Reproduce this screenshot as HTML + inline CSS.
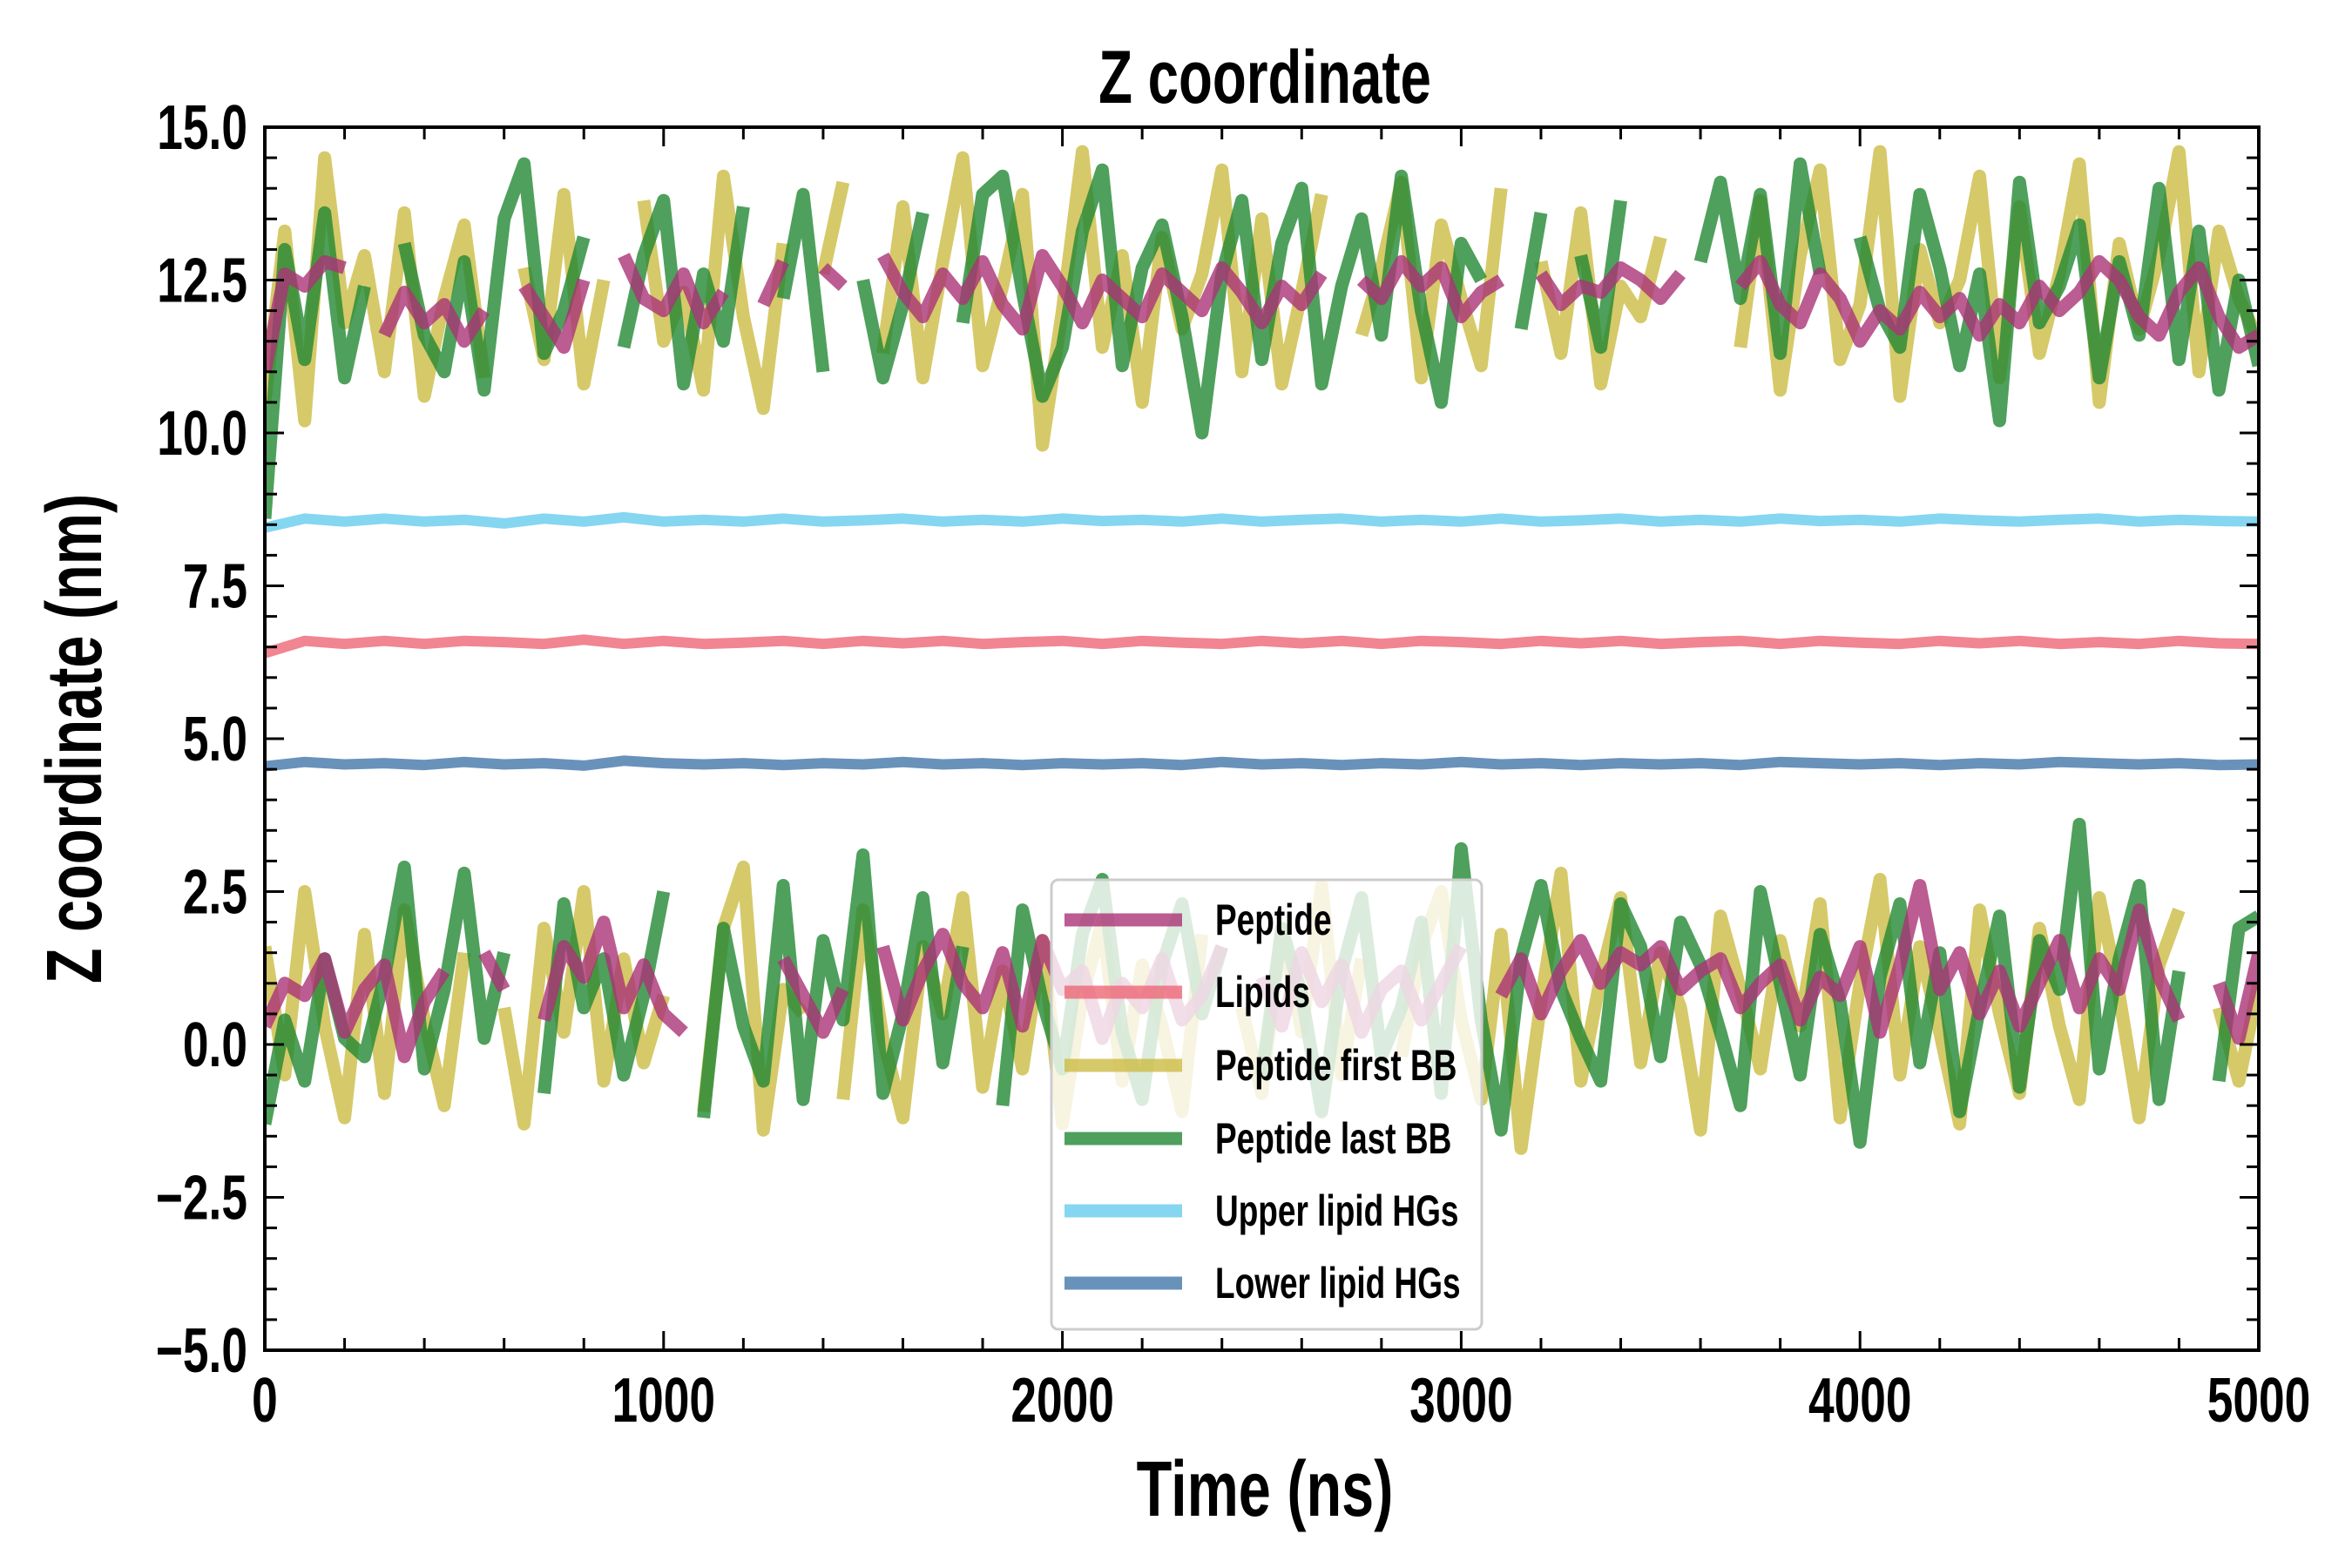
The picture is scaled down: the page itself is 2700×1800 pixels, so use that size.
<!DOCTYPE html>
<html><head><meta charset="utf-8"><style>
html,body{margin:0;padding:0;background:#fff;}
svg{display:block;font-family:"Liberation Sans Narrow","Liberation Sans",sans-serif;font-weight:bold;}
</style></head><body>
<svg id="chart" width="2700" height="1800" viewBox="0 0 2700 1800">
<g id="data-layer"></g>
<g id="axes-layer"></g>
<g id="legend-layer"></g>
</svg>
<script>
const xTicks = [0,1000,2000,3000,4000,5000];
const yTicks = [-5.0,-2.5,0.0,2.5,5.0,7.5,10.0,12.5,15.0];
const seriesNames = ["Peptide","Lipids","Peptide first BB","Peptide last BB","Upper lipid HGs","Lower lipid HGs"];
const timeStep = 50;
const pepUp = [11,12.6,12.4,12.8,12.7,null,11.6,12.3,11.8,12.1,11.5,12.0,null,12.4,11.9,11.4,12.5,null,12.9,12.2,12.0,12.6,11.8,12.3,null,12.1,12.8,null,12.7,12.4,null,12.9,12.3,11.9,12.6,12.2,12.8,12.1,11.7,12.9,12.4,11.8,12.5,12.2,11.9,12.6,12.3,12.0,12.7,12.3,11.8,12.4,12.1,12.6,null,12.5,12.2,12.8,12.4,12.7,11.9,12.3,12.5,null,12.6,12.1,12.4,12.3,12.7,12.5,12.2,12.6,null,null,12.4,12.8,12.1,11.8,12.6,12.2,11.5,12.0,11.7,12.3,11.9,12.2,11.6,12.1,11.8,12.4,12.0,12.3,12.8,12.5,11.9,11.6,12.3,12.7,11.9,11.4,11.6];
const firstUp = [10.5,13.3,10.2,14.5,11.8,12.9,11.0,13.6,10.6,12.2,13.4,10.9,null,12.7,11.2,13.9,10.8,12.5,null,13.8,11.5,12.3,10.7,14.2,11.9,10.4,13.1,null,12.6,14.1,null,11.3,13.7,10.9,12.8,14.5,11.1,12.4,13.9,9.8,12.0,14.6,11.4,12.9,10.5,13.2,11.7,12.6,14.3,11.0,13.5,10.8,12.3,13.9,null,11.6,12.7,14.1,10.9,13.4,12.2,11.1,14.0,null,12.8,11.3,13.6,10.8,12.4,11.9,13.2,null,null,null,11.4,13.8,10.7,12.9,14.3,11.2,12.1,14.6,10.6,13.0,11.8,12.5,14.2,10.9,13.7,11.3,12.6,14.4,10.5,13.1,11.7,12.9,14.6,11.0,13.3,12.2,11.5];
const lastUp = [8.6,13.0,11.2,13.6,10.9,12.4,null,13.1,11.6,11.0,12.8,10.7,13.5,14.4,11.3,12.0,13.2,null,11.4,12.9,13.8,10.8,12.6,11.5,13.7,null,12.2,13.9,11.0,null,12.5,10.9,12.1,13.6,null,11.8,13.9,14.2,12.3,10.6,11.4,13.3,14.3,11.1,12.7,13.4,11.9,10.0,12.6,13.8,11.2,13.1,14.0,10.8,12.4,13.5,11.6,14.2,12.0,10.5,13.1,12.5,null,11.7,13.6,null,12.9,11.4,13.8,null,null,null,12.8,14.1,12.2,13.9,11.3,14.4,12.6,null,13.2,12.0,11.4,13.9,12.7,11.1,12.6,10.2,14.1,11.8,12.4,13.4,10.9,12.8,11.6,14.0,11.2,13.3,10.7,12.5,11.1];
const pepLo = [0.3,1.0,0.8,1.4,0.2,0.9,1.3,-0.2,0.7,1.2,null,1.5,0.9,null,0.4,1.6,1.1,2.0,0.6,1.3,0.5,0.2,null,null,null,null,1.4,0.8,0.2,0.9,null,1.6,0.4,1.2,1.8,1.0,0.6,1.5,0.3,1.7,0.9,1.2,0.1,1.0,0.6,1.4,0.4,0.8,1.6,null,1.1,0.3,1.5,0.7,1.3,0.2,0.9,1.2,0.4,1.0,1.6,null,0.8,1.4,0.5,1.2,1.7,1.0,1.5,1.3,1.6,0.9,1.2,1.4,0.6,1.0,1.3,0.4,1.1,0.8,1.6,0.2,1.3,2.6,0.9,1.5,0.5,1.2,0.3,1.0,1.7,0.6,1.4,0.9,2.2,1.1,0.4,null,1.0,0.1,1.5];
const firstLo = [1.6,-0.5,2.5,0.3,-1.2,1.8,-0.8,2.2,0.4,-1.0,1.5,null,0.6,-1.3,1.9,0.2,2.5,-0.6,1.4,-0.3,0.8,null,-1.1,1.9,2.9,-1.4,0.9,0.5,null,-0.9,2.2,0.1,-1.2,1.6,0.5,2.4,-0.7,1.2,-0.4,1.7,-1.3,0.8,2.0,-0.6,1.3,0.3,-1.1,1.8,null,0.6,-0.8,1.9,0.2,2.6,-0.5,1.4,null,-0.2,1.6,2.5,0.4,-0.9,1.8,-1.7,0.7,2.8,-0.6,1.1,2.4,-0.3,1.5,0.6,-1.4,2.1,0.9,-0.4,1.7,0.3,2.3,-1.2,1.0,2.7,-0.5,1.6,0.2,-1.3,2.2,0.5,-0.8,1.9,0.3,-0.9,2.4,0.8,-1.2,1.3,2.2,null,0.6,-0.6,1.0];
const lastLo = [-1.3,0.4,-0.6,1.4,0.1,-0.2,1.1,2.9,-0.4,0.9,2.8,0.1,1.5,null,-0.8,2.3,0.6,1.4,-0.5,0.8,2.5,null,-1.2,1.9,0.3,-0.6,2.6,-0.9,1.7,0.4,3.1,-0.8,0.5,2.4,-0.3,1.6,null,-1.0,2.2,0.7,-0.4,1.8,2.7,0.2,-0.9,1.3,2.3,0.5,1.6,null,-0.5,1.9,0.8,-1.1,1.2,2.4,-0.2,0.6,2.0,-0.8,3.2,0.4,-1.4,1.4,2.6,0.9,0.1,-0.6,2.3,1.6,-0.2,2.0,1.3,0.2,-1.0,2.5,1.0,-0.5,1.8,0.7,-1.6,1.1,2.3,-0.3,1.5,-1.1,0.6,2.1,-0.7,1.7,0.9,3.6,-0.4,1.4,2.6,-0.9,1.2,null,-0.6,1.9,2.1];
const lipidsZ = [6.4,6.6,6.55,6.6,6.55,6.6,6.58,6.55,6.62,6.55,6.6,6.55,6.57,6.6,6.55,6.6,6.56,6.6,6.55,6.58,6.6,6.55,6.6,6.57,6.55,6.6,6.56,6.6,6.55,6.6,6.58,6.55,6.6,6.56,6.6,6.55,6.58,6.6,6.55,6.6,6.57,6.55,6.6,6.56,6.6,6.55,6.58,6.55,6.6,6.56,6.55];
const upperZ = [8.45,8.6,8.55,8.6,8.55,8.58,8.52,8.6,8.55,8.62,8.55,8.58,8.55,8.6,8.55,8.57,8.6,8.55,8.58,8.55,8.6,8.56,8.58,8.55,8.6,8.55,8.58,8.6,8.55,8.58,8.55,8.6,8.55,8.57,8.6,8.55,8.58,8.55,8.6,8.56,8.58,8.55,8.6,8.57,8.55,8.58,8.6,8.55,8.58,8.56,8.55];
const lowerZ = [4.55,4.62,4.58,4.6,4.57,4.62,4.58,4.6,4.56,4.64,4.6,4.58,4.6,4.57,4.6,4.58,4.62,4.58,4.6,4.57,4.6,4.58,4.6,4.57,4.62,4.58,4.6,4.57,4.6,4.58,4.62,4.58,4.6,4.57,4.6,4.58,4.6,4.57,4.62,4.6,4.58,4.6,4.57,4.6,4.58,4.62,4.6,4.58,4.6,4.57,4.58];
const flatStep = 100;

const L=304,R=2593,T=146,B=1550, XMIN=0,XMAX=5000,YMIN=-5,YMAX=15;
const sx=v=>L+(v-XMIN)/(XMAX-XMIN)*(R-L);
const sy=v=>B-(v-YMIN)/(YMAX-YMIN)*(B-T);
const NS="http://www.w3.org/2000/svg";
const SQ=0.74;
function mk(tag,attrs,parent){const e=document.createElementNS(NS,tag);for(const k in attrs)e.setAttribute(k,attrs[k]);parent.appendChild(e);return e;}
function txt(parent,x,y,size,anchor,str,rot){const t=mk("text",{x:0,y:0,"text-anchor":anchor,"font-size":size,transform:"translate("+x+" "+y+")"+(rot?" rotate("+rot+")":"")+" scale("+SQ+" 1)"},parent);t.textContent=str;return t;}
function pathFor(arr,step){let d="",pen=false;arr.forEach((v,i)=>{if(v===null){pen=false;return;}d+=(pen?"L":"M")+sx(i*step).toFixed(1)+" "+sy(v).toFixed(1)+" ";pen=true;});return d;}
const dataLayer=document.getElementById("data-layer");
const clip=mk("clipPath",{id:"pc"},dataLayer);mk("rect",{x:L,y:T,width:R-L,height:B-T},clip);
const g=mk("g",{"clip-path":"url(#pc)"},dataLayer);
function line(arr,step,color,w,name){const p=mk("path",{d:pathFor(arr,step),fill:"none",stroke:color,"stroke-width":w,"stroke-opacity":0.8,"stroke-linejoin":"round","stroke-linecap":"butt"},g);

}
line(firstUp,timeStep,"#CCBB44",15,"peptide-first-bb-upper-line");
line(firstLo,timeStep,"#CCBB44",15,"peptide-first-bb-lower-line");
line(lastUp,timeStep,"#228833",15,"peptide-last-bb-upper-line");
line(lastLo,timeStep,"#228833",15,"peptide-last-bb-lower-line");
line(pepUp,timeStep,"#AA3377",15,"peptide-upper-line");
line(pepLo,timeStep,"#AA3377",15,"peptide-lower-line");
line(lipidsZ,flatStep,"#EE6677",12,"lipids-line");
line(upperZ,flatStep,"#66CCEE",12,"upper-lipid-hgs-line");
line(lowerZ,flatStep,"#4477AA",12,"lower-lipid-hgs-line");

const ax=document.getElementById("axes-layer");
const frame=mk("rect",{x:L,y:T,width:R-L,height:B-T,fill:"none",stroke:"#000","stroke-width":4},ax);


for(let v=0;v<=5000;v+=200){const x=sx(v),len=(v%1000===0)?22:14;
mk("line",{x1:x,y1:B,x2:x,y2:B-len,stroke:"#000","stroke-width":3},ax);
mk("line",{x1:x,y1:T,x2:x,y2:T+len,stroke:"#000","stroke-width":3},ax);}
for(let v=-5;v<=15.001;v+=0.5){const y=sy(v),maj=Math.abs(v/2.5-Math.round(v/2.5))<1e-6,len=maj?22:14;
mk("line",{x1:L,y1:y,x2:L+len,y2:y,stroke:"#000","stroke-width":3},ax);
mk("line",{x1:R,y1:y,x2:R-len,y2:y,stroke:"#000","stroke-width":3},ax);}
xTicks.forEach(v=>{const t=txt(ax,sx(v),1632,72,"middle",String(v));

});
yTicks.forEach(v=>{const t=txt(ax,284,sy(v)+25,72,"end",(v<0?"\u2212":"")+Math.abs(v).toFixed(1));

});
const title=txt(ax,1452,118,86,"middle","Z coordinate");


const xl=txt(ax,1452,1740,90,"middle","Time (ns)");


const yl=txt(ax,116,848,90,"middle","Z coordinate (nm)",-90);



const lg=document.getElementById("legend-layer");
const box=mk("rect",{x:1207,y:1010,width:494,height:516,rx:8,fill:"#fff","fill-opacity":0.8,stroke:"#ccc","stroke-width":3},lg);


const legColors=["#AA3377","#EE6677","#CCBB44","#228833","#66CCEE","#4477AA"];
const legY=[1056,1139,1223,1307,1390,1473];
seriesNames.forEach((n,i)=>{const e=mk("g",{},lg);


mk("line",{x1:1222,y1:legY[i],x2:1357,y2:legY[i],stroke:legColors[i],"stroke-width":15,"stroke-opacity":0.8},e);
txt(e,1395,legY[i]+17,50,"start",n);});
</script>
</body></html>
